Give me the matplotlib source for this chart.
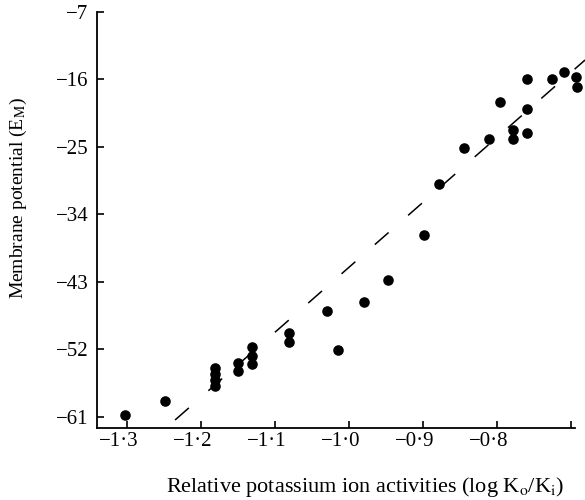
import numpy as np
import matplotlib
matplotlib.use("Agg")
import matplotlib.pyplot as plt
from matplotlib.transforms import ScaledTranslation

plt.rcParams['font.family'] = ['Liberation Serif', 'DejaVu Serif']
plt.rcParams['mathtext.fontset'] = 'stix'

# log(Ko/Ki) and membrane potential
log_k = [-1.303, -1.249,
         -1.181, -1.181, -1.181, -1.181,
         -1.150, -1.150,
         -1.131, -1.131, -1.131,
         -1.081, -1.081,
         -1.015, -1.030, -0.980, -0.947,
         -0.899, -0.878, -0.845, -0.811,
         -0.796, -0.778, -0.778, -0.759, -0.759, -0.759,
         -0.726, -0.709, -0.693, -0.692]
e_m = [-60.7, -58.9,
       -54.5, -55.3, -56.1, -56.9,
       -53.8, -54.9,
       -51.7, -52.9, -53.9,
       -49.8, -51.0,
       -52.1, -46.9, -45.7, -42.8,
       -36.8, -29.9, -25.1, -23.9,
       -19.0, -22.7, -24.0, -23.1, -20.0, -15.9,
       -15.9, -15.0, -15.7, -17.0]

# dashed regression line end points
fit_x = [-1.235, -0.681]
fit_y = [-61.4, -13.4]

xticks = [-1.3, -1.2, -1.1, -1.0, -0.9, -0.8, -0.7]
xticklabels = ['\u22121\u00b73', '\u22121\u00b72', '\u22121\u00b71',
               '\u22121\u00b70', '\u22120\u00b79', '\u22120\u00b78', '']
yticks = [-61, -52, -43, -34, -25, -16, -7]

fig = plt.figure(figsize=(5.85, 5.0), dpi=100)
ax = fig.add_axes([97/585, 72/500, 478/585, 416/500])

ax.scatter(log_k, e_m, s=58, color='black', zorder=3, linewidths=0, clip_on=False)
ax.plot(fit_x, fit_y, color='black', lw=1.1, linestyle=(0, (12, 17)), clip_on=False)

ax.set_xlim(-1.3405, -0.6946)
ax.set_ylim(-62.47, -7)

ax.spines['top'].set_visible(False)
ax.spines['right'].set_visible(False)
for sp in ['left', 'bottom']:
    ax.spines[sp].set_linewidth(1.3)

ax.set_xticks(xticks)
ax.set_xticklabels(xticklabels)
ax.set_yticks(yticks)
ax.set_yticklabels(['\u2212%d' % abs(v) for v in yticks])
ax.tick_params(direction='in', length=5, width=1.2, labelsize=15)
ax.tick_params(axis='x', pad=3)
ax.tick_params(axis='y', pad=6)

# number part centred on the tick, minus sign hanging to the left
for lab in ax.get_xticklabels():
    lab.set_transform(lab.get_transform() + ScaledTranslation(-0.08, 0, fig.dpi_scale_trans))

fig.text(18/585, 1 - 198/500, r'Membrane potential (E$_{\rm M}$)', fontsize=14,
         rotation=90, ha='center', va='center')
fig.text(365/585, 1 - 487/500,
         r'Relative potassium ion activities (log K$_{\rm o}$/K$_{\rm i}$)',
         fontsize=16, ha='center', va='center')

fig.savefig('out.png', dpi=100)
